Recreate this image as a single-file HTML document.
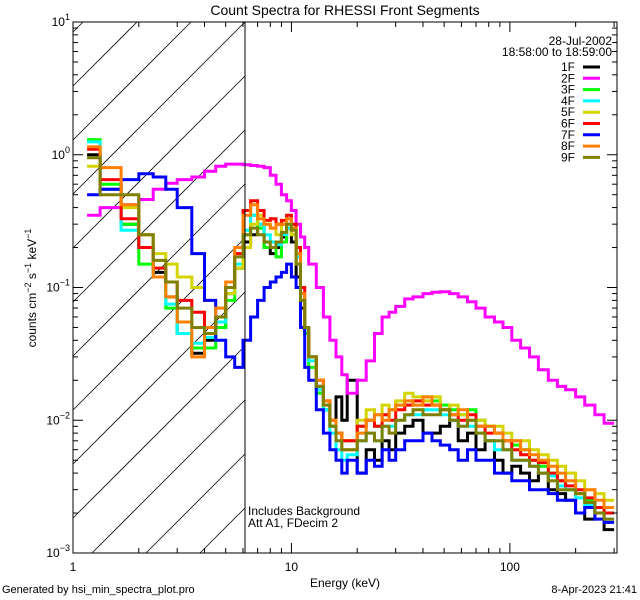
<!DOCTYPE html>
<html><head><meta charset="utf-8"><style>
html,body{margin:0;padding:0;background:#fff;overflow:hidden;width:640px;height:600px;}
svg{display:block;font-family:"Liberation Sans",sans-serif;}
</style></head><body>
<svg id="chart" width="640" height="600" viewBox="0 0 640 600">
<defs><clipPath id="plotclip"><rect x="73" y="22" width="544" height="531"/></clipPath></defs>
<text x="345" y="15" text-anchor="middle" font-size="14">Count Spectra for RHESSI Front Segments</text>
<g id="hatch"></g>
<g id="series" clip-path="url(#plotclip)"></g>
<g id="axes"></g>
<line x1="245" y1="22" x2="245" y2="553" stroke="#000" stroke-width="1"/>
<text x="248" y="515" font-size="12">Includes Background</text>
<text x="248" y="527" font-size="12">Att A1, FDecim 2</text>
<text x="612" y="45" text-anchor="end" font-size="12">28-Jul-2002</text>
<text x="612" y="56" text-anchor="end" font-size="12">18:58:00 to 18:59:00</text>
<g id="legend"></g>
<text x="345" y="587" text-anchor="middle" font-size="12">Energy (keV)</text>
<text transform="translate(36,288) rotate(-90)" text-anchor="middle" font-size="12">counts cm<tspan dy="-5" font-size="9">−2</tspan><tspan dy="5"> s</tspan><tspan dy="-5" font-size="9">−1</tspan><tspan dy="5"> keV</tspan><tspan dy="-5" font-size="9">−1</tspan></text>
<text x="2" y="593" font-size="11">Generated by hsi_min_spectra_plot.pro</text>
<text x="637" y="593" text-anchor="end" font-size="11">8-Apr-2023 21:41</text>
</svg>
<script>
const edges=[1.16,1.33,1.66,2.0,2.33,2.66,3.0,3.5,4.0,4.5,5.0,5.5,6.0,6.5,7,7.5,8,8.5,9,9.5,10,10.5,11,11.5,12,13,14,15,16,17,18,20,22,24,26,28,30,33,36,40,44,48,53,58,64,70,77,85,93,102,112,123,135,150,165,180,200,220,245,270,300];
const seriesNames=["1F","2F","3F","4F","5F","6F","7F","8F","9F"];
const seriesColors=["#000000","#ff00ff","#00ff00","#00ffff","#d4d400","#ff0000","#0000ff","#ff8000","#808000"];
const v1F=[1.0,0.55,0.3,0.2,0.13,0.085,0.045,0.032,0.04,0.05, 0.09,0.14,0.22,0.25,0.3,0.2,0.18,0.2,0.24,0.28, 0.22,0.12,0.07,0.045,0.03,0.018,0.012,0.009,0.015,0.01, 0.02,0.004,0.006,0.005,0.007,0.006,0.008,0.009,0.01,0.008, 0.008,0.009,0.01,0.007,0.008,0.006,0.007,0.005,0.004,0.0045, 0.004,0.0035,0.004,0.003,0.0028,0.0025,0.002,0.0018,0.0022,0.0015];
const v2F=[0.35,0.4,0.42,0.46,0.55,0.61,0.65,0.68,0.75,0.82, 0.85,0.85,0.84,0.83,0.82,0.8,0.7,0.6,0.5,0.45, 0.38,0.3,0.24,0.2,0.15,0.1,0.06,0.04,0.03,0.022, 0.016,0.02,0.028,0.045,0.06,0.065,0.072,0.082,0.085,0.09, 0.092,0.093,0.09,0.085,0.078,0.07,0.06,0.055,0.05,0.04, 0.035,0.03,0.024,0.02,0.018,0.017,0.015,0.013,0.011,0.0095];
const v3F=[1.3,0.6,0.3,0.15,0.12,0.07,0.045,0.035,0.035,0.05, 0.08,0.14,0.25,0.35,0.28,0.2,0.2,0.17,0.22,0.28, 0.3,0.2,0.08,0.045,0.025,0.016,0.012,0.009,0.008,0.007, 0.007,0.009,0.01,0.009,0.011,0.012,0.013,0.013,0.014,0.015, 0.014,0.013,0.012,0.011,0.012,0.01,0.009,0.008,0.007,0.0065, 0.006,0.005,0.0045,0.004,0.0035,0.003,0.0028,0.0025,0.0022,0.002];
const v4F=[1.25,0.55,0.27,0.2,0.12,0.075,0.045,0.038,0.042,0.055, 0.09,0.15,0.27,0.35,0.3,0.25,0.22,0.21,0.25,0.28, 0.28,0.17,0.08,0.05,0.028,0.017,0.012,0.008,0.006,0.005, 0.0055,0.007,0.008,0.007,0.009,0.009,0.01,0.011,0.011,0.012, 0.012,0.011,0.01,0.009,0.009,0.008,0.007,0.006,0.006,0.005, 0.005,0.0045,0.004,0.0038,0.0032,0.003,0.0026,0.0023,0.002,0.0018];
const v5F=[0.82,0.55,0.4,0.25,0.18,0.15,0.12,0.1,0.08,0.07, 0.09,0.14,0.2,0.3,0.35,0.3,0.28,0.25,0.3,0.3, 0.25,0.15,0.08,0.05,0.03,0.02,0.013,0.01,0.008,0.007, 0.007,0.01,0.012,0.011,0.013,0.012,0.014,0.016,0.015,0.014, 0.015,0.012,0.013,0.011,0.01,0.01,0.009,0.009,0.008,0.007, 0.007,0.006,0.0055,0.005,0.0045,0.004,0.0035,0.003,0.0028,0.0025];
const v6F=[1.1,0.65,0.33,0.2,0.14,0.11,0.08,0.065,0.05,0.06, 0.1,0.18,0.38,0.45,0.38,0.32,0.33,0.3,0.32,0.35, 0.3,0.2,0.1,0.05,0.03,0.02,0.014,0.01,0.008,0.007, 0.007,0.009,0.01,0.009,0.011,0.01,0.012,0.013,0.014,0.013, 0.013,0.012,0.011,0.01,0.011,0.009,0.008,0.008,0.007,0.006, 0.0055,0.005,0.0048,0.004,0.0035,0.0032,0.003,0.0026,0.0022,0.002];
const v7F=[0.5,0.55,0.65,0.72,0.68,0.55,0.4,0.18,0.08,0.04, 0.03,0.025,0.04,0.06,0.08,0.1,0.11,0.12,0.13,0.15, 0.12,0.1,0.05,0.025,0.02,0.012,0.008,0.006,0.005,0.004, 0.005,0.004,0.005,0.0045,0.006,0.005,0.006,0.007,0.007,0.008, 0.007,0.0065,0.006,0.005,0.006,0.005,0.005,0.004,0.004,0.0035, 0.0035,0.003,0.003,0.0028,0.0025,0.0025,0.002,0.0022,0.0018,0.0017];
const v8F=[1.15,0.8,0.42,0.25,0.12,0.085,0.055,0.03,0.05,0.07, 0.11,0.2,0.35,0.42,0.33,0.3,0.28,0.3,0.3,0.33, 0.28,0.18,0.09,0.05,0.03,0.02,0.014,0.01,0.008,0.006, 0.006,0.008,0.01,0.011,0.01,0.012,0.013,0.014,0.013,0.015, 0.013,0.012,0.011,0.012,0.01,0.009,0.009,0.008,0.007,0.007, 0.006,0.0055,0.005,0.0045,0.004,0.0035,0.0028,0.003,0.0025,0.0022];
const v9F=[0.95,0.5,0.5,0.25,0.16,0.11,0.07,0.05,0.045,0.06, 0.1,0.17,0.25,0.28,0.25,0.22,0.2,0.22,0.26,0.3, 0.27,0.15,0.08,0.05,0.03,0.018,0.013,0.009,0.007,0.006, 0.006,0.007,0.008,0.007,0.009,0.008,0.01,0.011,0.012,0.011, 0.011,0.012,0.01,0.009,0.01,0.008,0.007,0.007,0.006,0.005, 0.005,0.0045,0.004,0.0035,0.003,0.003,0.0028,0.0024,0.002,0.0018];
const xTicks=[1,10,100];
const xTickLabels=["1","10","100"];
const yTicks=[-3,-2,-1,0,1];

const NS="http://www.w3.org/2000/svg";
const X0=73,X1=617,Y0=553,Y1=22;
const xMin=0,xMax=Math.log10(309.3),yMin=-3,yMax=1;
function sx(e){return X0+(Math.log10(e)-xMin)/(xMax-xMin)*(X1-X0);}
function sy(v){return Y0-(Math.log10(v)-yMin)/(yMax-yMin)*(Y0-Y1);}
function mk(tag,attrs,parent){const el=document.createElementNS(NS,tag);for(const k in attrs)el.setAttribute(k,attrs[k]);parent.appendChild(el);return el;}

// hatch lines y = c - x, clipped to [73,245]x[22,553]
const hatch=document.getElementById('hatch');
const HX0=73,HX1=245;
for(let k=-3;k<14;k++){
  const c=86+k*54+73;
  let xa=Math.max(HX0,c-553), xb=Math.min(HX1,c-22);
  if(xb<=xa)continue;
  const ln=mk('line',{x1:xa,y1:c-xa,x2:xb,y2:c-xb,stroke:'#000','stroke-width':0.8},hatch);
  
  
}

const allSeries=[v1F,v2F,v3F,v4F,v5F,v6F,v7F,v8F,v9F];
const sg=document.getElementById('series');
allSeries.forEach((vals,i)=>{
  let d='';
  for(let b=0;b<vals.length;b++){
    const xa=sx(edges[b]).toFixed(1),xb=sx(edges[b+1]).toFixed(1),y=sy(vals[b]).toFixed(1);
    d+=(b===0?'M':'L')+xa+','+y+'L'+xb+','+y;
  }
  const p=mk('path',{d:d,fill:'none',stroke:seriesColors[i],'stroke-width':3,'stroke-linejoin':'miter'},sg);
  
  
});

const ax=document.getElementById('axes');
const fr=mk('rect',{x:X0,y:Y1,width:X1-X0,height:Y0-Y1,fill:'none',stroke:'#000','stroke-width':1},ax);


for(let dec=0;dec<3;dec++){
  for(let m=1;m<10;m++){
    const e=m*Math.pow(10,dec);
    if(e>309)continue;
    const x=sx(e),len=m===1?10:5;
    const t1=mk('line',{x1:x,y1:Y0,x2:x,y2:Y0-len,stroke:'#000'},ax);
    
    
    const t2=mk('line',{x1:x,y1:Y1,x2:x,y2:Y1+len,stroke:'#000'},ax);
    
    
  }
}
xTicks.forEach((e,i)=>{
  const t=mk('text',{x:sx(e),y:Y0+18,'text-anchor':'middle','font-size':12},ax);
  t.textContent=xTickLabels[i];
  
  
});
yTicks.forEach(p=>{
  for(let m=1;m<10;m++){
    if(p===1&&m>1)break;
    const y=sy(m*Math.pow(10,p)),len=m===1?10:5;
    const t1=mk('line',{x1:X0,y1:y,x2:X0+len,y2:y,stroke:'#000'},ax);
    
    
    const t2=mk('line',{x1:X1,y1:y,x2:X1-len,y2:y,stroke:'#000'},ax);
    
    
  }
  const t=mk('text',{x:X0-3,y:sy(Math.pow(10,p))+4,'text-anchor':'end','font-size':12},ax);
  t.innerHTML='10<tspan dy="-6" font-size="9">'+(p<0?'−'+(-p):p)+'</tspan>';
  
  
});

const lg=document.getElementById('legend');
seriesNames.forEach((n,i)=>{
  const y=67+i*11.3;
  const t=mk('text',{x:575,y:y+4,'text-anchor':'end','font-size':12},lg);
  t.textContent=n;
  
  
  const l=mk('line',{x1:583,y1:y,x2:600,y2:y,stroke:seriesColors[i],'stroke-width':3},lg);
  
  
});
</script>
</body></html>
